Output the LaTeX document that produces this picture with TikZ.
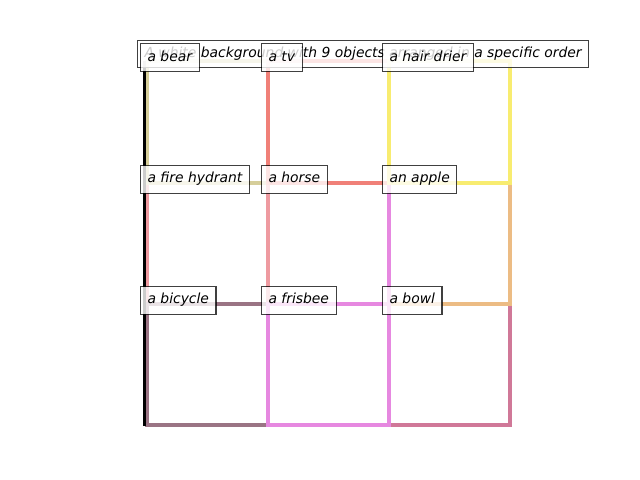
\documentclass[tikz,border=0pt]{standalone}
\usepackage{fontspec}
\setmainfont{DejaVu Sans}
\definecolor{ckhaki}{HTML}{D6CE9A}
\definecolor{csalmon}{HTML}{F08078}
\definecolor{cpink}{HTML}{EE9AA0}
\definecolor{cyellow}{HTML}{F8EC70}
\definecolor{corchid}{HTML}{E688E0}
\definecolor{ctan}{HTML}{ECBC84}
\definecolor{cmauve}{HTML}{9A7484}
\definecolor{cpvr}{HTML}{D07898}
\tikzset{
  cell/.style={line width=2.2pt},
  lbl/.style={draw=black, draw opacity=0.75, line width=0.75pt, fill=white, fill opacity=0.8, text opacity=1,
    font=\fontsize{10}{12}\selectfont\itshape, text height=7.6pt, text depth=2.6pt,
    inner xsep=5.04pt, inner ysep=4.8pt, anchor=west},
}
\begin{document}
\begin{tikzpicture}[x=0.72pt,y=-0.72pt]
\useasboundingbox (0,0) rectangle (640,480);
% cells
\draw[cell, cpvr]    (389,304) rectangle (510,425);
\draw[cell, ctan]    (389,183) rectangle (510,304);
\draw[cell, corchid] (268,183) rectangle (389,304);
\draw[cell, cpink]   (147,183) rectangle (268,304);
\draw[cell, ckhaki]  (147,61) rectangle (268,183);
\draw[cell, csalmon] (268,61) rectangle (389,183);
\draw[cell, cyellow] (389,61) rectangle (510,183);
\draw[cell, cmauve]  (147,304) rectangle (268,425);
\draw[cell, corchid] (268,304) rectangle (389,425);
% axis line
\draw[line width=2.2pt, black] (144.3,61) -- (144.3,426);
% title
\node[lbl] (title) at (137,54) {A white background with 9 objects arranged in a specific order};
% labels
\node[lbl] (bear) at (140,57.7) {a bear};
\node[lbl] (tv) at (261,57.7) {a tv};
\node[lbl] (drier) at (382,57.7) {a hair drier};
\node[lbl] (hydrant) at (140,179.4) {a fire hydrant};
\node[lbl] (horse) at (261,179.4) {a horse};
\node[lbl] (apple) at (382,179.4) {an apple};
\node[lbl] (bicycle) at (140,300.4) {a bicycle};
\node[lbl] (frisbee) at (261,300.4) {a frisbee};
\node[lbl] (bowl) at (382,300.4) {a bowl};
\end{tikzpicture}
\end{document}
